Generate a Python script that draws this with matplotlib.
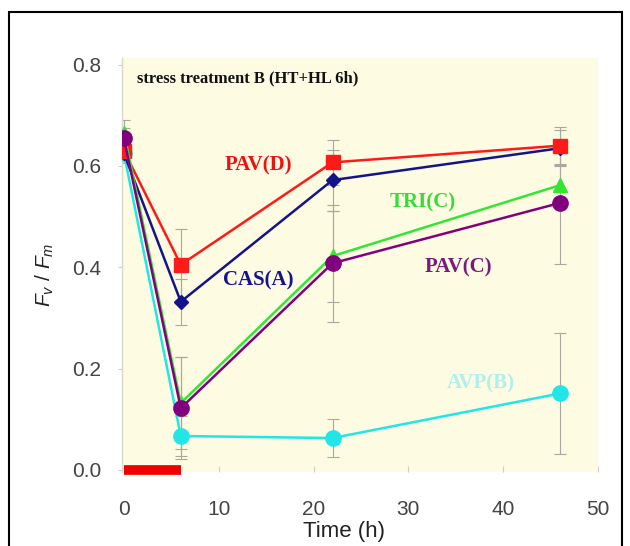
import matplotlib
matplotlib.use("Agg")
import matplotlib.pyplot as plt
from matplotlib.patches import Rectangle

# ---- data ----
times = [0, 6, 22, 46]
pav_d = [0.630, 0.405, 0.607, 0.640]
pav_d_err = [0.020, 0.070, 0.045, 0.036]
cas_a = [0.625, 0.332, 0.572, 0.635]
cas_a_err = [0.020, 0.045, 0.060, 0.035]
tri_c = [0.665, 0.132, 0.422, 0.562]
tri_c_err = [0.025, 0.090, 0.090, 0.040]
pav_c = [0.655, 0.122, 0.408, 0.527]
pav_c_err = [0.020, 0.100, 0.115, 0.120]
avp_b = [0.625, 0.067, 0.063, 0.151]
avp_b_err = [0.020, 0.040, 0.038, 0.120]
stress_period = [0, 6]
x_ticks = [0, 10, 20, 30, 40, 50]
y_ticks = [0.0, 0.2, 0.4, 0.6, 0.8]

plt.rcParams['font.family'] = ['Liberation Sans', 'DejaVu Sans']
plt.rcParams['mathtext.fontset'] = 'custom'
plt.rcParams['mathtext.it'] = 'Liberation Sans:italic'
plt.rcParams['mathtext.rm'] = 'Liberation Sans'

fig = plt.figure(figsize=(6.3, 5.46), dpi=100)
ax = fig.add_axes([122/630, 1-472/546, (598-122)/630, (472-58)/546])
ax.set_facecolor('#fdfbe1')

series = [
    (avp_b, avp_b_err, '#22e6e6', 'o', 11, 3),
    (cas_a, cas_a_err, '#14148a', 'D', 7, 4),
    (pav_d, pav_d_err, '#ff1a1a', 's', 10, 5),
    (tri_c, tri_c_err, '#33e633', '^', 10, 6),
    (pav_c, pav_c_err, '#800080', 'o', 11, 7),
]
for vals, errs, col, mk, ms, z in series:
    ax.errorbar(times, vals, yerr=errs, fmt='none', ecolor='#a8a8a0',
                elinewidth=0.8, capsize=4, capthick=0.8, zorder=2)
for vals, errs, col, mk, ms, z in series:
    ax.plot(times, vals, color=col, lw=1.8, marker=mk, markersize=ms,
            markeredgecolor=col, zorder=z)

# stress period bar
ax.plot(stress_period, [0.0, 0.0], color='#ee0000', lw=7, solid_capstyle='butt',
        clip_on=False, zorder=8)

ax.set_xlim(-0.2, 50)
ax.set_ylim(-0.004, 0.813)
ax.set_xticks(x_ticks)
ax.set_yticks(y_ticks)
ax.set_xticklabels([str(t) for t in x_ticks])
ax.set_yticklabels(['%.1f' % t for t in y_ticks])
ax.tick_params(axis='x', direction='in', length=4, color='#d0d0c8', pad=20,
               labelsize=15, labelcolor='#444444')
ax.tick_params(axis='y', direction='out', length=3, color='#d0d0c8', pad=12,
               labelsize=15, labelcolor='#444444')
for s in ['top', 'right', 'bottom']:
    ax.spines[s].set_visible(False)
ax.spines['left'].set_color('#d8d8d0')
ax.spines['left'].set_linewidth(1.0)

ax.set_xlabel('Time (h)', fontsize=16, color='#222222')
ax.xaxis.set_label_coords((344-122)/(598-122), -(532-472)/(472-58))
ax.xaxis.label.set_verticalalignment('center')
ax.set_ylabel(r'$F_v$ / $F_m$', fontsize=15, color='#222222')
ax.yaxis.set_label_coords(-(122-45)/(598-122), (472-275)/(472-58))
ax.yaxis.label.set_verticalalignment('center')

serif = ['Liberation Serif', 'DejaVu Serif']
fig.text(137/630, 1-78/546, 'stress treatment B (HT+HL 6h)', family=serif,
         fontweight='bold', fontsize=12, color='#111111', va='center', ha='left')

labels = [
    ('PAV(D)', 258, 165, '#ee1111', 1.0),
    ('CAS(A)', 258, 280, '#14148a', 1.0),
    ('TRI(C)', 423, 202, '#33dd33', 1.0),
    ('PAV(C)', 458, 267, '#7a1a7a', 1.0),
    ('AVP(B)', 481, 383, '#a8eeee', 0.9),
]
for txt, px, py, col, a in labels:
    fig.text(px/630, 1-py/546, txt, family=serif, fontweight='bold', fontsize=15,
             color=col, alpha=a, ha='center', va='center')

fig.patches.append(Rectangle((9/630, -0.02), (622-9)/630, 1.02-12/546,
                             transform=fig.transFigure, fill=False,
                             edgecolor='black', linewidth=1.5))

fig.savefig('out.png', dpi=100)
